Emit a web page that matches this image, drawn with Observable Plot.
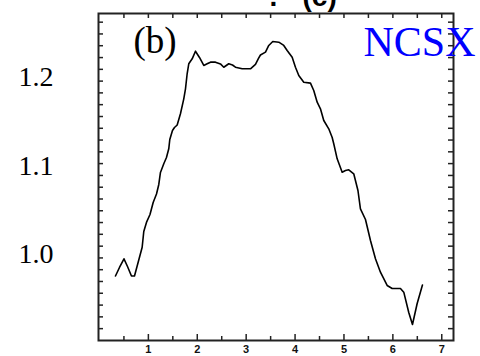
<!DOCTYPE html>
<html><head><meta charset="utf-8">
<script src="https://cdn.jsdelivr.net/npm/d3@7"></script>
<script src="https://cdn.jsdelivr.net/npm/@observablehq/plot@0.6"></script>
<style>body{margin:0;background:#fff} #chart{width:480px;height:356px;overflow:hidden}</style>
</head><body><div id="chart"></div><script>
const xs = [0.327,0.409,0.501,0.573,0.654,0.716,0.783,0.873,0.906,0.961,1.033,1.098,1.166,1.213,1.247,1.315,1.370,1.417,1.438,1.493,1.534,1.589,1.656,1.724,1.759,1.793,1.826,1.896,1.963,2.045,2.133,2.202,2.270,2.372,2.474,2.542,2.644,2.720,2.781,2.918,3.088,3.190,3.252,3.292,3.395,3.462,3.544,3.667,3.769,3.838,3.941,4.008,4.076,4.178,4.315,4.382,4.452,4.519,4.587,4.689,4.759,4.791,4.861,4.963,5.031,5.098,5.200,5.286,5.337,5.440,5.542,5.644,5.746,5.883,5.986,6.155,6.223,6.325,6.401,6.497,6.605];
const ys = [0.9757,0.9853,0.9951,0.9864,0.9757,0.9757,0.9895,1.0082,1.0260,1.0362,1.0452,1.0588,1.0684,1.0791,1.0927,1.1025,1.1096,1.1194,1.1299,1.1401,1.1435,1.1463,1.1590,1.1759,1.1872,1.2042,1.2155,1.2211,1.2297,1.2226,1.2136,1.2155,1.2173,1.2173,1.2153,1.2116,1.2155,1.2141,1.2116,1.2098,1.2098,1.2147,1.2215,1.2254,1.2286,1.2362,1.2407,1.2399,1.2362,1.2305,1.2229,1.2116,1.2023,1.1947,1.1936,1.1853,1.1721,1.1646,1.1514,1.1420,1.1322,1.1251,1.1081,1.0930,1.0949,1.0957,1.0912,1.0723,1.0516,1.0395,1.0158,0.9951,0.9800,0.9650,0.9616,0.9616,0.9574,0.9345,0.9209,0.9446,0.9655];
const xMajorTicks = [1,2,3,4,5,6,7];
const xMinorTicks = [0.5,1.5,2.5,3.5,4.5,5.5,6.5];
const yLabels = [1.0,1.1,1.2];
const yMinorTicks = [1.2625,1.2492,1.2359,1.2225,1.2092,1.1959,1.1826,1.1693,1.1559,1.1426,1.1293,1.1160,1.1027,1.0893,1.0760,1.0627,1.0494,1.0361,1.0228,1.0094,0.9961,0.9828,0.9695,0.9562,0.9428,0.9295,0.9162];
const panelLabel = "(b)";
const deviceLabel = "NCSX";
const topLabel = "(c)";

const data = xs.map((x, i) => ({x, y: ys[i]}));
const W = 480, H = 356, mL = 98, mR = 27, mT = 13, mB = 16;
const pw = W - mL - mR, ph = H - mT - mB;
const serif = "'Times New Roman', 'Liberation Serif', serif";
const sans = "Arial, 'Liberation Sans', sans-serif";
const ink = "#222";

const chart = Plot.plot({
  width: W, height: H,
  marginLeft: mL, marginRight: mR, marginTop: mT, marginBottom: mB,
  style: {background: "#fff", overflow: "visible"},
  x: {domain: [-0.02, 7.24]},
  y: {domain: [0.9028, 1.2723]},
  marks: [
    Plot.axisX(xMajorTicks, {tickSize: 0, tickPadding: 5, fontSize: 11, fontFamily: sans, fontWeight: "bold", label: null, fill: "#111"}),
    Plot.axisY(yLabels, {tickSize: 0, tickPadding: 45, fontSize: 28, fontFamily: serif, tickFormat: d3.format(".1f"), label: null, fill: "#000"}),
    Plot.tickX(xMajorTicks, {x: d => d, insetTop: ph - 6, stroke: ink, strokeWidth: 1.5}),
    Plot.tickX(xMinorTicks, {x: d => d, insetTop: ph - 4, stroke: ink, strokeWidth: 1.5}),
    Plot.tickX(xMajorTicks.concat(xMinorTicks), {x: d => d, insetBottom: ph - 5, stroke: ink, strokeWidth: 1.5}),
    Plot.tickY(yMinorTicks, {y: d => d, insetRight: pw - 5, stroke: ink, strokeWidth: 1.5}),
    Plot.tickY(yMinorTicks, {y: d => d, insetLeft: pw - 5, stroke: ink, strokeWidth: 1.5}),
    Plot.frame({stroke: ink, strokeWidth: 2}),
    Plot.line(data, {x: "x", y: "y", stroke: "#000", strokeWidth: 1.6}),
    Plot.text([panelLabel], {text: d => d, frameAnchor: "top-left", dx: 35, dy: 13, lineAnchor: "top", textAnchor: "start", fontSize: 37, fontFamily: serif, fill: "#000"}),
    Plot.text([deviceLabel], {text: d => d, frameAnchor: "top-right", dx: -90, dy: 13, lineAnchor: "top", textAnchor: "start", fontSize: 42, fontFamily: serif, fill: "#0000ff"}),
    Plot.text([topLabel], {text: d => d, frameAnchor: "top-left", dx: 204, dy: -16, lineAnchor: "middle", textAnchor: "start", fontSize: 28, fontWeight: "bold", fontFamily: sans, fill: "#000"}),
    Plot.text(["."], {text: d => d, frameAnchor: "top-left", dx: 171, dy: -16, lineAnchor: "middle", textAnchor: "start", fontSize: 28, fontWeight: "bold", fontFamily: sans, fill: "#000"})
  ]
});
document.getElementById("chart").appendChild(chart);
</script></body></html>
